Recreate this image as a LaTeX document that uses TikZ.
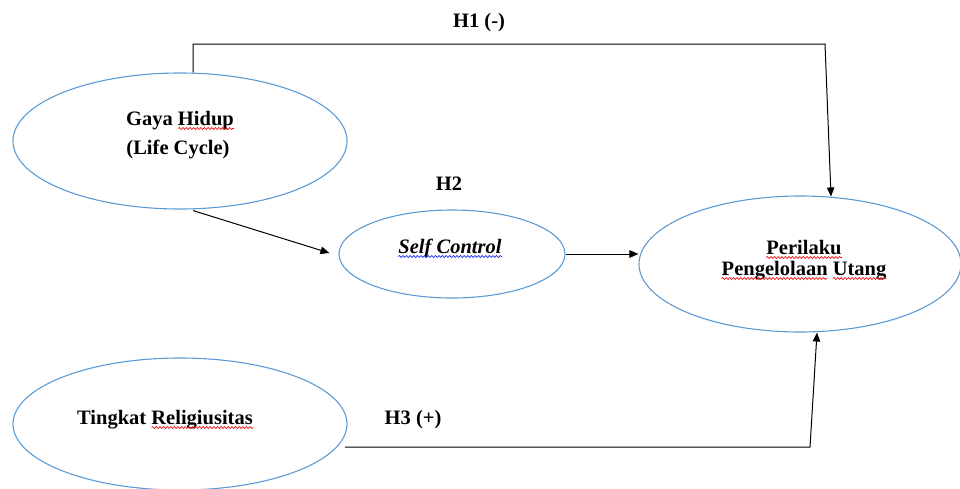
\documentclass[tikz,border=0pt]{standalone}
\usepackage{fontspec}
\setmainfont{Liberation Serif}
\usetikzlibrary{shapes.geometric,arrows.meta,decorations.pathmorphing}

\newcommand\lblfont{\bfseries\fontsize{20.5}{24}\selectfont}
% widths of single words that carry a proofing wave
\newlength\wdHidup
\newlength\wdPeng
\newlength\wdUtang
\newlength\wdRelig

\definecolor{ovalblue}{RGB}{91,155,213}
\definecolor{proofred}{RGB}{235,20,20}
\definecolor{proofblue}{RGB}{30,50,235}

\tikzset{
  oval/.style={ellipse, draw=ovalblue, line width=1.1pt, inner sep=0pt},
  lbl/.style={anchor=base, inner sep=0pt, font=\lblfont},
  link/.style={draw=black, line width=1pt},
  arr/.style={link, -{Triangle[length=9pt,width=7.5pt]}},
  wavy/.style={draw=#1, line width=0.7pt, decorate,
    decoration={snake, segment length=3.6pt, amplitude=1pt}}
}

\begin{document}
\settowidth\wdHidup{\lblfont Hidup}%
\settowidth\wdPeng{\lblfont Pengelolaan}%
\settowidth\wdUtang{\lblfont Utang}%
\settowidth\wdRelig{\lblfont Religiusitas}%
\begin{tikzpicture}[x=1pt,y=-1pt]
\useasboundingbox (0,0) rectangle (960,488);
\clip (0,0) rectangle (960,488);

% constructs
\node[oval, minimum width=334pt, minimum height=136pt] (gaya) at (180,141) {};
\node[oval, minimum width=226pt, minimum height=88pt] (self) at (452,254) {};
\node[oval, minimum width=322pt, minimum height=136pt] (per) at (800,264) {};
\node[oval, minimum width=334pt, minimum height=132pt] (rel) at (180,424) {};

% labels inside the ovals
\node[lbl] (tgaya) at (180,125) {Gaya Hidup};
\node[lbl] (tlife) at (178,154) {(Life Cycle)};
\node[lbl] (tself) at (450,253) {\itshape Self Control};
\node[lbl] (tper1) at (804,254) {Perilaku};
\node[lbl] (tper2) at (804,275) {Pengelolaan Utang};
\node[lbl] (trel) at (165,424) {Tingkat Religiusitas};

% proofing waves under words
\draw[wavy=proofred] ([xshift=-\wdHidup,yshift=-3.5pt]tgaya.base east) -- ([yshift=-3.5pt]tgaya.base east);
\draw[wavy=proofblue] ([yshift=-3.5pt]tself.base west) -- ([yshift=-3.5pt]tself.base east);
\draw[wavy=proofred] ([yshift=-3.5pt]tper1.base west) -- ([yshift=-3.5pt]tper1.base east);
\draw[wavy=proofred] ([yshift=-3.5pt]tper2.base west) -- ([xshift=\wdPeng,yshift=-3.5pt]tper2.base west);
\draw[wavy=proofred] ([xshift=-\wdUtang,yshift=-3.5pt]tper2.base east) -- ([yshift=-3.5pt]tper2.base east);
\draw[wavy=proofred] ([xshift=-\wdRelig,yshift=-3.5pt]trel.base east) -- ([yshift=-3.5pt]trel.base east);

% hypothesis labels
\node[lbl] (h1) at (479,27) {H1 (-)};
\node[lbl] (h2) at (449,190) {H2};
\node[lbl] (h3) at (413,424) {H3 (+)};

% H1: lifestyle -> debt management behaviour
\coordinate (h1a) at (193,44);
\coordinate (h1b) at (825,44);
\draw[arr] ([xshift=13pt]gaya.north) -- (h1a) -- (h1b) -- ([xshift=31pt,yshift=-1pt]per.north);

% H2: lifestyle -> self control -> debt management behaviour
\draw[arr] ([xshift=13pt,yshift=-1pt]gaya.south) -- ([xshift=-9pt,yshift=1pt]self.west);
\draw[arr] (self.east) -- (self.east -| per.west);

% H3: religiosity -> debt management behaviour
\coordinate (h3a) at (345,447);
\coordinate (h3b) at (810,447);
\draw[arr] (h3a) -- (h3b) -- ([xshift=17pt]per.south);
\end{tikzpicture}
\end{document}
